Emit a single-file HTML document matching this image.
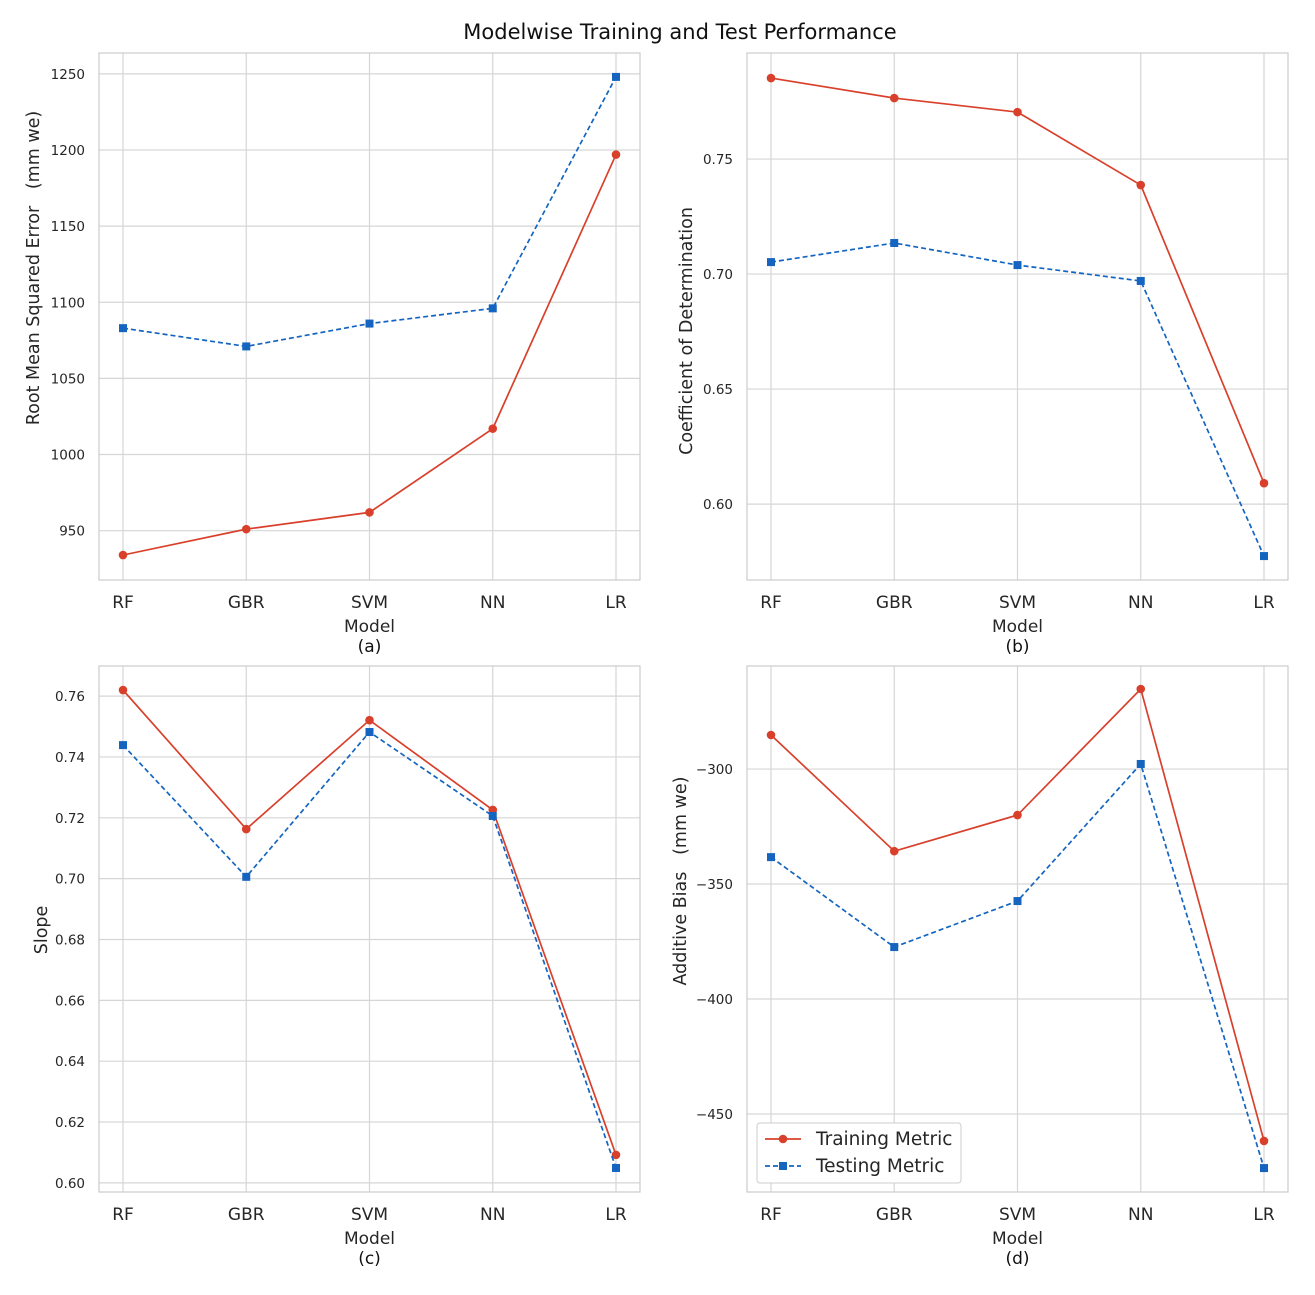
<!DOCTYPE html>
<html><head><meta charset="utf-8"><style>
body{margin:0;background:#fff}
svg{font-family:"DejaVu Sans","Liberation Sans",sans-serif}
</style></head><body>
<svg id="s" width="1315" height="1290" viewBox="0 0 1315 1290">
<text x="680" y="39" text-anchor="middle" font-size="21" fill="#111">Modelwise Training and Test Performance</text>
</svg>
<script>
const models=["RF","GBR","SVM","NN","LR"];
const trainA=[934,951,962,1017,1197];
const testA=[1083,1071,1086,1096,1248];
const trainB=[0.7852,0.7765,0.7704,0.7387,0.6091];
const testB=[0.7052,0.7135,0.7039,0.6970,0.5774];
const trainC=[0.762,0.7163,0.7521,0.7226,0.6092];
const testC=[0.7439,0.7006,0.7482,0.7206,0.6049];
const trainD=[-285.2,-335.7,-320,-265.2,-461.7];
const testD=[-338.3,-377.4,-357.4,-297.8,-473.5];
const ticksA=[950,1000,1050,1100,1150,1200,1250];
const ticksB=[0.60,0.65,0.70,0.75];
const ticksC=[0.60,0.62,0.64,0.66,0.68,0.70,0.72,0.74,0.76];
const ticksD=[-450,-400,-350,-300];
const NS="http://www.w3.org/2000/svg";
const svg=document.getElementById('s');
function mk(t,a,p){const e=document.createElementNS(NS,t);for(const k in a)e.setAttribute(k,a[k]);(p||svg).appendChild(e);return e;}
const RED="#d9402b",BLUE="#1565c0";
const panels=[
 {id:"a",x0:99,x1:640,y0:53,y1:580,ymin:917.6,ymax:1263.7,tr:trainA,te:testA,ticks:ticksA,fmt:v=>v.toFixed(0),yl:"Root Mean Squared Error   (mm we)",ylx:39,ylc:268},
 {id:"b",x0:747,x1:1288,y0:53,y1:580,ymin:0.567,ymax:0.7961,tr:trainB,te:testB,ticks:ticksB,fmt:v=>v.toFixed(2),yl:"Coefficient of Determination",ylx:692,ylc:331},
 {id:"c",x0:99,x1:640,y0:666,y1:1192,ymin:0.597,ymax:0.7699,tr:trainC,te:testC,ticks:ticksC,fmt:v=>v.toFixed(2),yl:"Slope",ylx:47,ylc:930},
 {id:"d",x0:747,x1:1288,y0:666,y1:1192,ymin:-483.9,ymax:-255.2,tr:trainD,te:testD,ticks:ticksD,fmt:v=>"\u2212"+Math.abs(v).toFixed(0),yl:"Additive Bias   (mm we)",ylx:686,ylc:881}
];
panels.forEach(p=>{
 const g=mk('g',{});
 
 
 const xs=i=>p.x0+24+i*(p.x1-p.x0-48)/(models.length-1);
 const ys=v=>p.y1-(v-p.ymin)/(p.ymax-p.ymin)*(p.y1-p.y0);
 p.ticks.forEach(t=>{
  const l=mk('line',{x1:p.x0,x2:p.x1,y1:ys(t),y2:ys(t),stroke:"#d6d6d6","stroke-width":1.2},g);
  
  
  const tx=mk('text',{x:p.x0-14,y:ys(t)+5,"text-anchor":"end","font-size":13.5,fill:"#262626"},g);
  tx.textContent=p.fmt(t);
  
  
 });
 models.forEach((m,i)=>{
  const l=mk('line',{x1:xs(i),x2:xs(i),y1:p.y0,y2:p.y1,stroke:"#d6d6d6","stroke-width":1.2},g);
  
  
  const tx=mk('text',{x:xs(i),y:p.y1+28,"text-anchor":"middle","font-size":17,fill:"#262626"},g);
  tx.textContent=m;
  
  
 });
 const r=mk('rect',{x:p.x0,y:p.y0,width:p.x1-p.x0,height:p.y1-p.y0,fill:"none",stroke:"#cccccc","stroke-width":1.2},g);
 
 
 const xm=(p.x0+p.x1)/2;
 const xl=mk('text',{x:xm,y:p.y1+52,"text-anchor":"middle","font-size":17,fill:"#262626"},g);
 xl.textContent="Model";
 
 
 const cap=mk('text',{x:xm,y:p.y1+72,"text-anchor":"middle","font-size":17,fill:"#111"},g);
 cap.textContent="("+p.id+")";
 
 
 const yc=p.ylc;
 const yl=mk('text',{x:p.ylx,y:yc,"text-anchor":"middle","font-size":17.5,fill:"#262626",transform:`rotate(-90 ${p.ylx} ${yc})`},g);
 yl.style.whiteSpace="pre";
 yl.textContent=p.yl;
 
 
 [[p.tr,RED,null,'training'],[p.te,BLUE,"5,3",'testing']].forEach(([arr,c,d,nm])=>{
  const pts=arr.map((v,i)=>xs(i)+","+ys(v)).join(" ");
  const a={points:pts,fill:"none",stroke:c,"stroke-width":1.7};
  if(d)a["stroke-dasharray"]=d;
  const pl=mk('polyline',a,g);
  
  
  arr.forEach((v,i)=>{
   let mkr;
   if(nm==='training')mkr=mk('circle',{cx:xs(i),cy:ys(v),r:4.3,fill:c},g);
   else mkr=mk('rect',{x:xs(i)-4,y:ys(v)-4,width:8,height:8,fill:c},g);
   
   
  });
 });
});
const lg=mk('g',{});


mk('rect',{x:757,y:1123,width:204,height:60,rx:3,fill:"#fff",stroke:"#cccccc"},lg);
[[RED,null,"Training Metric",1139,'training'],[BLUE,"5,3","Testing Metric",1166,'testing']].forEach(([c,d,t,y,nm])=>{
 const a={x1:765,x2:801,y1:y,y2:y,stroke:c,"stroke-width":1.7};if(d)a["stroke-dasharray"]=d;
 mk('line',a,lg);
 if(nm==='training')mk('circle',{cx:783,cy:y,r:4.3,fill:c},lg);else mk('rect',{x:779,y:y-4,width:8,height:8,fill:c},lg);
 const tx=mk('text',{x:816,y:y+6,"font-size":18.5,fill:"#262626"},lg);
 tx.textContent=t;
 
 
});
</script>
</body></html>
